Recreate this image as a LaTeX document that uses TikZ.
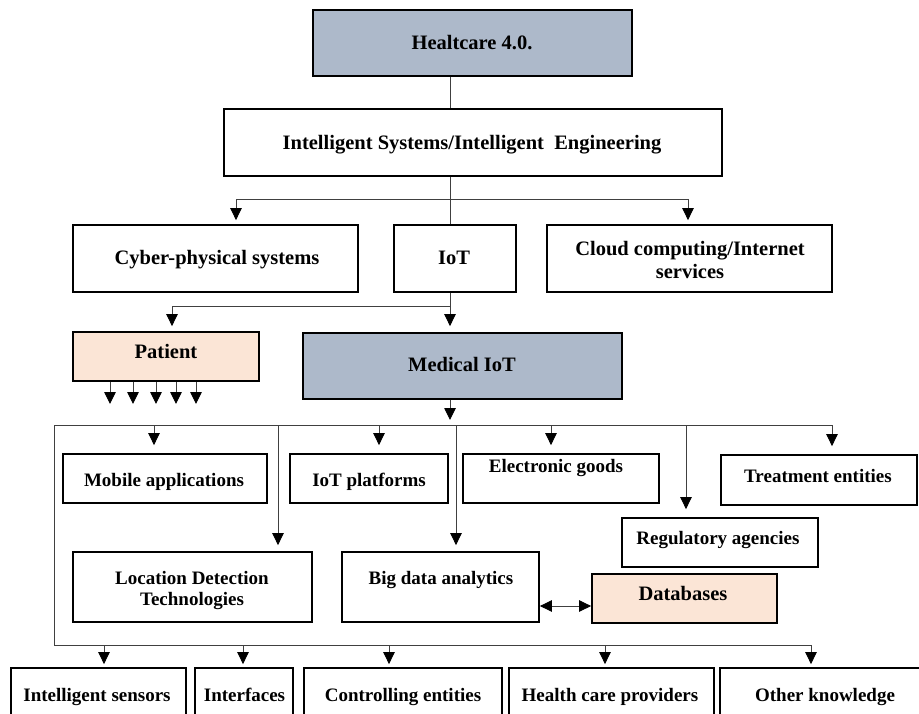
\documentclass[tikz,border=0pt]{standalone}
\usepackage{fontspec}
\setmainfont{Liberation Serif}
\usetikzlibrary{arrows.meta}
\definecolor{slateblue}{HTML}{ADB9CA}
\definecolor{peach}{HTML}{FBE5D6}
\definecolor{wire}{HTML}{404040}
\tikzset{
  box/.style={draw=black, line width=1.8pt, fill=white, inner sep=0pt},
  lblbig/.style={inner sep=0pt, align=center, font=\fontsize{20.5}{23}\selectfont\bfseries,
                 text height=13.6pt, text depth=0pt},
  lbl/.style={inner sep=0pt, align=center, font=\fontsize{19}{21}\selectfont\bfseries,
              text height=12.6pt, text depth=0pt},
  lblbigml/.style={inner sep=0pt, align=center, font=\fontsize{20.5}{23}\selectfont\bfseries},
  lblml/.style={inner sep=0pt, align=center, font=\fontsize{19}{21}\selectfont\bfseries},
  conn/.style={draw=wire, line width=0.9pt},
  tip/.tip={Triangle[length=12pt,width=11.5pt,color=black]},
  arr/.style={conn, -tip},
  arrboth/.style={conn, tip-tip},
}
\begin{document}
\begin{tikzpicture}[x=1pt,y=-1pt]
\useasboundingbox (0,0) rectangle (919,713);
\clip (0,0) rectangle (919,713);
\fill[white] (0,0) rectangle (919,713);

% ---- boxes ----
\node[box, fill=slateblue, minimum width=319pt, minimum height=66pt] (health) at (472.5,43) {};
\node[box, minimum width=498pt, minimum height=67pt] (intel) at (473,142.5) {};
\node[box, minimum width=285pt, minimum height=67pt] (cyber) at (215.5,258.5) {};
\node[box, minimum width=122pt, minimum height=67pt] (iot) at (455,258.5) {};
\node[box, minimum width=285pt, minimum height=67pt] (cloud) at (689.5,258.5) {};
\node[box, fill=peach, minimum width=186pt, minimum height=49pt] (patient) at (166,356.5) {};
\node[box, fill=slateblue, minimum width=319pt, minimum height=66pt] (medical) at (462.5,366) {};
\node[box, minimum width=204pt, minimum height=49pt] (mobile) at (165,478.5) {};
\node[box, minimum width=158pt, minimum height=49pt] (iotplat) at (369,478.5) {};
\node[box, minimum width=196pt, minimum height=49pt] (elec) at (561,478.5) {};
\node[box, minimum width=196pt, minimum height=50pt] (treat) at (819,480) {};
\node[box, minimum width=196pt, minimum height=49pt] (regul) at (720,542.5) {};
\node[box, minimum width=239pt, minimum height=70pt] (loc) at (192.5,587) {};
\node[box, minimum width=197pt, minimum height=70pt] (bigdata) at (440.5,587) {};
\node[box, fill=peach, minimum width=185pt, minimum height=49pt] (db) at (684.5,598.5) {};
\node[box, minimum width=175pt, minimum height=56pt] (sensors) at (98.5,696) {};
\node[box, minimum width=98pt, minimum height=56pt] (interf) at (244,696) {};
\node[box, minimum width=198pt, minimum height=56pt] (ctrl) at (403,696) {};
\node[box, minimum width=205pt, minimum height=56pt] (provid) at (611.5,696) {};
\node[box, minimum width=220pt, minimum height=56pt] (other) at (830,696) {};

% ---- texts ----
\node[lblbig] (healthT) at (472,43) {Healtcare 4.0.};
\node[lblbig] (intelT) at (472,143) {Intelligent Systems/Intelligent\ \ Engineering};
\node[lblbig] (cyberT) at (217,258) {Cyber-physical systems};
\node[lblbig] (iotT) at (454,258) {IoT};
\node[lblbigml] (cloudT) at (690,260) {Cloud computing/Internet\\services};
\node[lblbig] (patientT) at (166,352) {Patient};
\node[lblbig] (medicalT) at (462,365) {Medical IoT};
\node[lbl] (mobileT) at (164,480) {Mobile applications};
\node[lbl] (iotplatT) at (369,480) {IoT platforms};
\node[lbl] (elecT) at (556,466) {Electronic goods};
\node[lbl] (treatT) at (818,476) {Treatment entities};
\node[lbl] (regulT) at (718,538) {Regulatory agencies};
\node[lblml] (locT) at (192,590) {Location Detection\\Technologies};
\node[lbl] (bigdataT) at (441,578) {Big data analytics};
\node[lblbig] (dbT) at (683,594) {Databases};
\node[lbl] (sensorsT) at (97,695) {Intelligent sensors};
\node[lbl] (interfT) at (244.5,695) {Interfaces};
\node[lbl] (ctrlT) at (403,695) {Controlling entities};
\node[lbl] (providT) at (610,695) {Health care providers};
\node[lbl] (otherT) at (825,695) {Other knowledge};

% ---- junction points and columns ----
\coordinate (colx) at (450,0);
\coordinate (hub1) at (450,199);
\coordinate (cpsx) at (236,0);
\coordinate (cldx) at (688,0);
\coordinate (hub2) at (450,306);
\coordinate (patx) at (172,0);
\coordinate (hub3) at (450,425);
\coordinate (fl) at (54,425);
\coordinate (fr) at (832,425);
\coordinate (fb) at (54,645);
\coordinate (fbr) at (811,645);
\coordinate (dbl) at (0,606);

% ---- upper connectors ----
\draw[conn] (health.south -| colx) -- (intel.north -| colx);
\draw[conn] (intel.south -| colx) -- (iot.north -| colx);
\draw[arr, shorten >=4pt] (hub1) -| (cyber.north -| cpsx);
\draw[arr, shorten >=4pt] (hub1) -| (cloud.north -| cldx);
\draw[conn] (iot.south -| colx) -- (hub2);
\draw[arr, shorten >=5pt] (hub2) -| (patient.north -| patx);
\draw[arr, shorten >=6pt] (hub2) -- (medical.north -| colx);

% ---- patient outputs ----
\foreach \i/\px in {1/110,2/133,3/156,4/176,5/196}{
  \coordinate (pe\i) at (\px,404);
  \draw[arr] (patient.south -| pe\i) -- (pe\i);
}

% ---- Medical IoT distribution frame ----
\draw[arr, shorten >=5pt] (medical.south -| colx) -- (hub3);
\draw[conn] (fr) -- (fl) -- (fb) -- (fbr);

\foreach \nm/\px/\gap in {mobile/154/8, loc/278/6, iotplat/379/8, bigdata/456/6,
                          elec/551/8, regul/686/8, treat/832/8}{
  \coordinate (top\nm) at (\px,425);
  \draw[arr, shorten >=\gap pt] (top\nm) -- (\nm.north -| top\nm);
}

\draw[arrboth] (bigdata.east |- dbl) -- (db.west |- dbl);

\foreach \nm/\px in {sensors/104, interf/243, ctrl/389, provid/605, other/811}{
  \coordinate (bot\nm) at (\px,645);
  \draw[arr, shorten >=3pt] (bot\nm) -- (\nm.north -| bot\nm);
}
\end{tikzpicture}
\end{document}
